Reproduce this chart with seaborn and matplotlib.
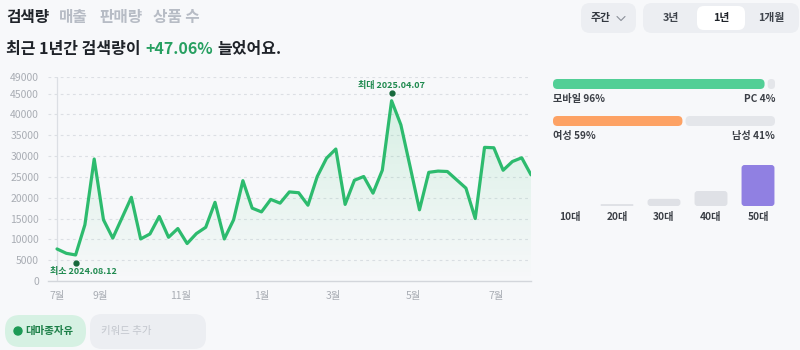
import matplotlib
matplotlib.use("Agg")
import matplotlib.pyplot as plt
import seaborn as sns
import numpy as np
import pandas as pd
from matplotlib.patches import FancyBboxPatch, Polygon, Circle

# ---------------- data ----------------
weekly_search = [7700, 6650, 6250, 13500, 29300, 14700, 10300, 15200, 20100, 10100,
                 11300, 15500, 10500, 12600, 9000, 11400, 12900, 18900, 10100, 14700,
                 24100, 17500, 16600, 19600, 18700, 21400, 21200, 18200, 25100, 29500,
                 31700, 18400, 24200, 25100, 21100, 26600, 43300, 37500, 27400, 17100,
                 26100, 26400, 26300, 24300, 22300, 15000, 32100, 32000, 26600, 28700,
                 29600, 25500]
month_labels = ["7월", "9월", "11월", "1월", "3월", "5월", "7월"]
month_tick_pos = [0, 4.63, 13.3, 22.06, 29.7, 38.4, 47.2]
y_ticks = [0, 5000, 10000, 15000, 20000, 25000, 30000, 35000, 40000, 45000, 49000]
max_label = "최대 2025.04.07"
min_label = "최소 2024.08.12"

tabs = ["검색량", "매출", "판매량", "상품 수"]
title_parts = ["최근 1년간 검색량이", "+47.06%", "늘었어요."]
periods = ["3년", "1년", "1개월"]

device_labels = ["모바일", "PC"]
device_share = [96, 4]
gender_labels = ["여성", "남성"]
gender_share = [59, 41]

age_groups = ["10대", "20대", "30대", "40대", "50대"]
age_share = [0, 3, 11, 23, 63]

keyword = "대마종자유"

# ---------------- style ----------------
BG = "#f7f8fa"
GREEN = "#2dbb6e"
DKGREEN = "#1f8a4f"
sns.set_theme(style="white")
plt.rcParams["font.family"] = ["Noto Sans CJK KR", "DejaVu Sans"]

W, H = 800, 350
fig = plt.figure(figsize=(8, 3.5), dpi=100, facecolor=BG)

overlay = fig.add_axes([0, 0, 1, 1], zorder=0)
overlay.set_xlim(0, W)
overlay.set_ylim(H, 0)
overlay.axis("off")


def rbox(x0, y0, x1, y1, r, color, z=1):
    w, h = x1 - x0, y1 - y0
    r = max(0.0, min(r, w / 2, h / 2))
    p = FancyBboxPatch((x0, y0), w, h, boxstyle=f"round,pad=0,rounding_size={r}",
                       fc=color, ec="none", zorder=z)
    overlay.add_patch(p)


def roundify(src_ax, r):
    inv = overlay.transData.inverted()
    for patch in list(src_ax.patches):
        bb = patch.get_window_extent()
        if bb.height < 0.5 or bb.width < 0.5:
            patch.remove()
            continue
        x0, y0 = inv.transform((bb.x0, bb.y1))
        x1, y1 = inv.transform((bb.x1, bb.y0))
        color = patch.get_facecolor()
        patch.remove()
        rbox(x0, y0, x1, y1, r, color, z=2)


# ---------------- header ----------------
tab_x = [6, 59, 99, 153]
for i, (t, x) in enumerate(zip(tabs, tab_x)):
    overlay.text(x, 17, t, fontsize=11.3, fontweight="bold",
                 color="#1f2329" if i == 0 else "#b7bcc5", va="center", ha="left")

t1 = overlay.text(6, 49, title_parts[0], fontsize=11.5, fontweight="bold",
                  color="#1f2329", va="center", ha="left")
t2 = overlay.annotate(title_parts[1], xy=(1, 0.5), xycoords=t1, xytext=(3.2, 0),
                      textcoords="offset points", fontsize=11.5, fontweight="bold",
                      color="#27a061", va="center", ha="left")
overlay.annotate(title_parts[2], xy=(1, 0.5), xycoords=t2, xytext=(3.2, 0),
                 textcoords="offset points", fontsize=11.5, fontweight="bold",
                 color="#1f2329", va="center", ha="left")

# period controls
rbox(581, 3, 636, 33, 9, "#eceef2")
overlay.text(591, 18, "주간", fontsize=7.8, fontweight="bold", color="#333840",
             va="center", ha="left")
overlay.plot([617, 621, 625], [16.5, 20.5, 16.5], color="#8a8f98", lw=0.8, zorder=3)
rbox(643, 3, 799, 33, 9, "#eceef2")
rbox(697, 6, 745, 30, 7, "white", z=2)
for t, cx in zip(periods, [671, 721, 771]):
    overlay.text(cx, 18, t, fontsize=7.8, fontweight="semibold",
                 color="#1f2329" if t == "1년" else "#3f444c", va="center", ha="center", zorder=3)

# ---------------- main line chart ----------------
ax = fig.add_axes([48 / W, 1 - 281 / H, (531 - 48) / W, (281 - 77) / H], zorder=1)
ax.set_facecolor("none")
weeks = np.arange(len(weekly_search))
df = pd.DataFrame({"week": weeks, "search": weekly_search})
sns.lineplot(data=df, x="week", y="search", ax=ax, color=GREEN, linewidth=2.3, zorder=4)

# gradient fill under line
verts = [(0, 0)] + list(zip(weeks, weekly_search)) + [(len(weeks) - 1, 0)]
clip = Polygon(verts, closed=True, fc="none", ec="none", transform=ax.transData)
ax.add_patch(clip)
grad = np.zeros((100, 1, 4))
grad[..., 0:3] = matplotlib.colors.to_rgb("#3cc97a")
grad[:, 0, 3] = np.linspace(0.17, 0.0, 100)
im = ax.imshow(grad, extent=[0, len(weeks) - 1, 0, max(weekly_search)], aspect="auto",
               origin="upper", zorder=2, interpolation="bilinear")
im.set_clip_path(clip)
ax.set_xlim(-0.97, len(weekly_search) - 1)
ax.set_ylim(0, 49000)

ax.set_yticks(y_ticks)
ax.set_yticklabels([str(v) for v in y_ticks])
ax.set_xticks(month_tick_pos)
ax.set_xticklabels(month_labels)
ax.tick_params(axis="both", length=0, labelsize=7.5, labelcolor="#a9adb4")
ax.tick_params(axis="y", pad=6.5)
ax.tick_params(axis="x", pad=7)
for v in y_ticks[1:]:
    ax.axhline(v, color="#dcdfe4", lw=0.8, ls=(0, (2.5, 3)), zorder=1)
ax.axvline(0, color="#dcdfe4", lw=0.9, zorder=1)
for s in ["top", "right", "left"]:
    ax.spines[s].set_visible(False)
ax.spines["bottom"].set_color("#d3d6db")
ax.spines["bottom"].set_linewidth(1.0)
ax.set_xlabel("")
ax.set_ylabel("")

imax = int(np.argmax(weekly_search))
imin = int(np.argmin(weekly_search))
ax.plot([imax], [weekly_search[imax]], marker="o", ms=3.5, color="#17693c",
        transform=ax.transData + matplotlib.transforms.ScaledTranslation(0, 5.8 / 72, fig.dpi_scale_trans),
        zorder=5)
ax.annotate(max_label, xy=(imax, weekly_search[imax]), xytext=(0, 8), textcoords="offset points",
            ha="center", va="bottom", fontsize=6.5, color=DKGREEN, fontweight="bold")
ax.plot([imin], [weekly_search[imin]], marker="o", ms=3.5, color="#17693c",
        transform=ax.transData + matplotlib.transforms.ScaledTranslation(0, -5.5 / 72, fig.dpi_scale_trans),
        zorder=5)
ax.annotate(min_label, xy=(imin, weekly_search[imin]), xytext=(5.5, -9), textcoords="offset points",
            ha="center", va="top", fontsize=6.5, color=DKGREEN, fontweight="bold")

# ---------------- device / gender bars ----------------
ax_dev = fig.add_axes([553 / W, 1 - 139.5 / H, 222 / W, 74 / H], zorder=1)
ax_dev.set_facecolor("none")
gap = 0.7
rows = [0, 1]
first = [device_share[0], gender_share[0]]
ax_dev.barh(rows, [f - gap for f in first], left=0, height=0.27,
            color=["#52cf96", "#fda264"])
ax_dev.barh(rows, [100 - f - gap for f in first], left=[f + gap for f in first], height=0.27,
            color="#e4e6ea")
ax_dev.set_xlim(0, 100)
ax_dev.set_ylim(1.5, -0.5)
ax_dev.axis("off")
roundify(ax_dev, 4.5)

for (lab, sh), y in [((device_labels, device_share), 99), ((gender_labels, gender_share), 136)]:
    overlay.text(553, y, f"{lab[0]} {sh[0]}%", fontsize=7.3, color="#3b3f46",
                 va="center", ha="left", fontweight="semibold")
    overlay.text(775, y, f"{lab[1]} {sh[1]}%", fontsize=7.3, color="#3b3f46",
                 va="center", ha="right", fontweight="semibold")

# ---------------- age bars ----------------
ax_age = fig.add_axes([546.5 / W, 1 - 206 / H, 235 / W, 41 / H], zorder=1)
ax_age.set_facecolor("none")
top = int(np.argmax(age_share))
pal = ["#9080e2" if i == top else "#dfe1e6" for i in range(len(age_groups))]
sns.barplot(x=age_groups, y=age_share, hue=age_groups, palette=pal, legend=False,
            ax=ax_age, width=0.7, saturation=1)
ax_age.set_xlim(-0.5, len(age_groups) - 0.5)
ax_age.set_ylim(0, max(age_share))
ax_age.set_yticks([])
for s in ax_age.spines.values():
    s.set_visible(False)
ax_age.tick_params(axis="x", length=0, pad=4, labelsize=7.3, labelcolor="#3b3f46")
for t in ax_age.get_xticklabels():
    t.set_fontweight("semibold")
ax_age.set_xlabel("")
ax_age.set_ylabel("")
roundify(ax_age, 3)

# ---------------- keyword chips ----------------
rbox(5, 315, 86, 347, 15, "#d6f1e3")
overlay.add_patch(Circle((18, 331), 4, color="#1c9a55", zorder=3))
overlay.text(25, 331, keyword, fontsize=7.5, fontweight="bold", color="#1c7f48",
             va="center", ha="left", zorder=3)
rbox(90, 314, 206, 349, 12, "#eceef2")
overlay.text(101, 331, "키워드 추가", fontsize=7.5, color="#c2c6cd",
             va="center", ha="left", zorder=3)

fig.savefig("out.png", dpi=100, facecolor=BG)
